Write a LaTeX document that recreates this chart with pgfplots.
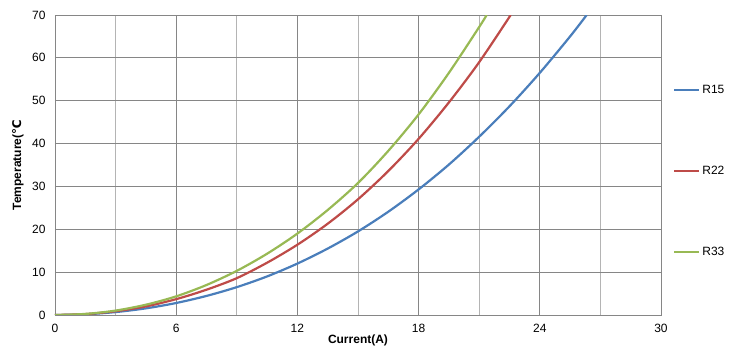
\documentclass[border=0pt]{standalone}
\usepackage{pgfplots}
\pgfplotsset{compat=1.18}
\usepackage{fontspec}
\setmainfont{Liberation Sans}
\newfontfamily\dejavu{DejaVu Sans}
\definecolor{cblue}{HTML}{4A7EBB}
\definecolor{cred}{HTML}{BE4B48}
\definecolor{cgreen}{HTML}{98B954}
\definecolor{gmaj}{HTML}{868686}
\definecolor{gmin}{HTML}{B4B4B4}
\begin{document}
\begin{tikzpicture}
\useasboundingbox (-55pt,-43pt) rectangle (690pt,315pt);
\begin{axis}[
  scale only axis,
  width=606pt, height=300pt,
  xmin=0, xmax=30, ymin=0, ymax=70,
  xtick={0,6,...,30}, ytick={0,10,...,70},
  minor xtick={3,9,15,21,27},
  grid=both,
  major grid style={draw=gmaj, line width=0.8pt},
  minor grid style={draw=gmin, line width=0.8pt},
  axis line style={draw=gmaj, line width=0.8pt},
  major tick length=0pt, minor tick length=0pt,
  tick label style={font=\fontsize{12}{14}\selectfont},
  /pgf/number format/assume math mode=true,
  xticklabel style={yshift=-6pt},
  yticklabel style={xshift=-6pt},
  xlabel={\textbf{Current(A)}},
  xlabel style={font=\fontsize{12}{14}\selectfont, at={(axis description cs:0.5,0)}, anchor=center, yshift=-25pt},
  ylabel={\textbf{Temperature(}{\dejavu\bfseries ℃}},
  ylabel style={font=\fontsize{12}{14}\selectfont, at={(axis description cs:0,0.5)}, anchor=center, yshift=37pt},
  legend style={at={(1,0.5)}, anchor=west, xshift=10pt, yshift=-6pt, draw=none, fill=none,
    font=\fontsize{12}{14}\selectfont, row sep=67pt, inner sep=2pt},
  legend cell align=left,
  legend image code/.code={\draw[#1, line width=2.2pt] (0pt,0pt) -- (25pt,0pt);},
  every axis plot/.append style={line width=2.2pt, smooth, mark=none},
]
\addplot[cblue] coordinates {
(0,0) (1.5,0.16) (3,0.68) (4.5,1.55) (6,2.8) (7.5,4.45) (9,6.5) (10.5,9.0)
(12,12.0) (13.5,15.5) (15,19.5) (16.5,24.1) (18,29.3) (19.5,35.1) (21,41.6)
(22.5,48.7) (24,56.5) (25.5,65.0) (26.32,70)};
\addlegendentry{R15}
\addplot[cred] coordinates {
(0,0) (1.5,0.21) (3,0.88) (4.5,2.0) (6,3.7) (7.5,5.9) (9,8.6) (10.5,12.2)
(12,16.4) (13.5,21.3) (15,27.0) (16.5,33.6) (18,41.1) (19.5,49.6) (21,59.0) (22.56,70)};
\addlegendentry{R22}
\addplot[cgreen] coordinates {
(0,0) (1.5,0.25) (3,1.03) (4.5,2.4) (6,4.35) (7.5,7.0) (9,10.3) (10.5,14.3)
(12,19.0) (13.5,24.5) (15,30.8) (16.5,38.3) (18,46.8) (19.5,56.5) (21,67.2) (21.37,70)};
\addlegendentry{R33}
\end{axis}
\end{tikzpicture}
\end{document}
